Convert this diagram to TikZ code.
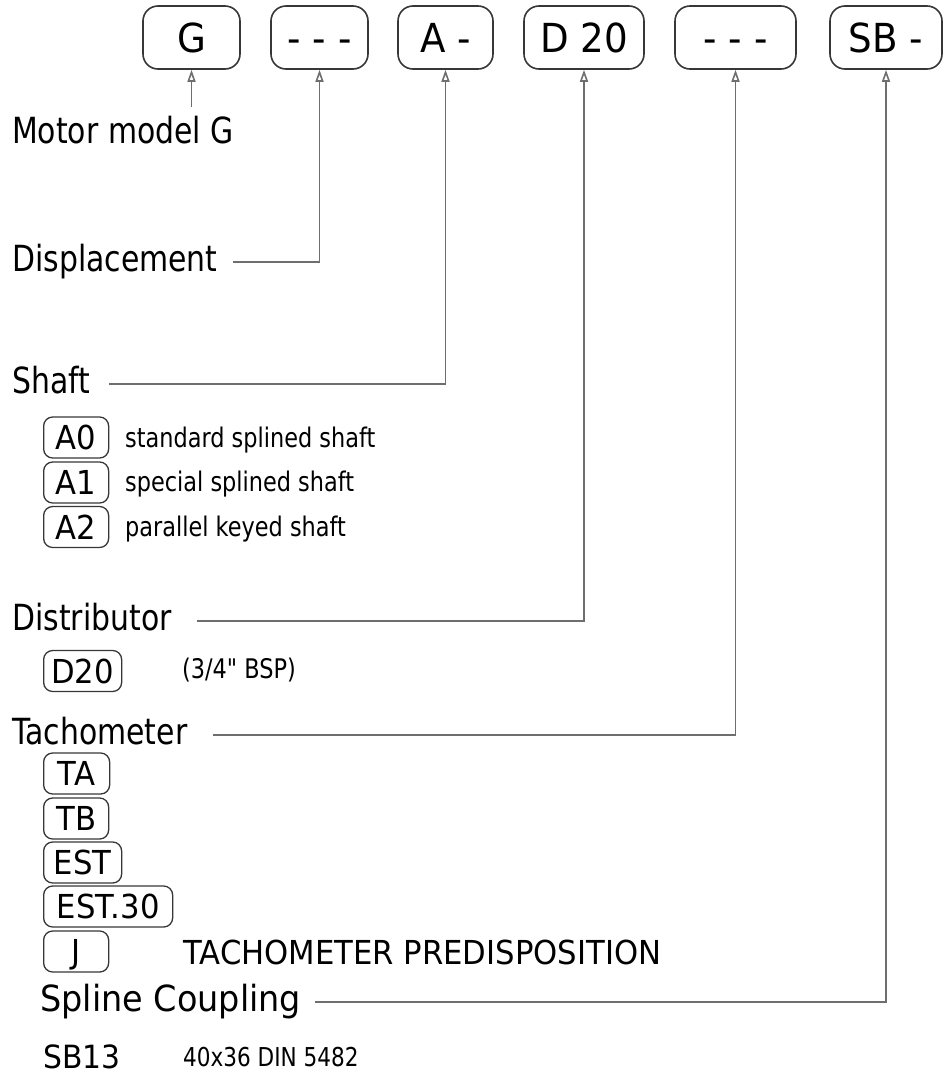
\documentclass[tikz,border=0pt]{standalone}
\usepackage{fontspec}
\setmainfont{DejaVu Sans}[FakeStretch=0.83,Ligatures=TeXOff]
\newfontfamily\anchofont{DejaVu Sans}[FakeStretch=0.93]
\usepackage{tikz}
\usetikzlibrary{arrows.meta}
\definecolor{GrisCaja}{RGB}{55,55,55}
\definecolor{GrisLinea}{RGB}{110,110,110}

\begin{document}
\begin{tikzpicture}[x=1pt,y=-1pt,>={Triangle[open,length=12pt,width=8pt]},
  caja/.style={draw=GrisCaja,line width=1.6pt,rounded corners=15pt,minimum height=63pt,inner sep=0pt,text height=29pt,text depth=0pt,font=\anchofont\fontsize{40}{42}\selectfont},
  codigo/.style={draw=GrisCaja,line width=1.3pt,rounded corners=9pt,anchor=west,minimum height=41pt,inner sep=0pt,text height=24pt,text depth=0pt,font=\anchofont\fontsize{33}{35}\selectfont},
  titulo/.style={anchor=west,inner sep=0pt,text height=27pt,text depth=9pt,font=\fontsize{36}{40}\selectfont},
  texto/.style={anchor=base west,inner sep=0pt,font=\fontsize{27}{30}\selectfont},
  conexion/.style={->,draw=GrisLinea,line width=1.6pt}]
  \useasboundingbox (0,0) rectangle (943,1074);
  \node[caja,minimum width=97pt] (bModelo) at (191.5,37.5) {G};
  \node[caja,minimum width=97pt] (bDesplaz) at (319.5,37.5) {- - -};
  \node[caja,minimum width=95pt] (bEje) at (445.5,37.5) {A -};
  \node[caja,minimum width=120pt] (bDistrib) at (584,37.5) {D 20};
  \node[caja,minimum width=121pt] (bTaco) at (735.5,37.5) {- - -};
  \node[caja,minimum width=112pt] (bAcople) at (886,37.5) {SB -};
  \node[titulo] (lModelo) at (12,134) {Motor model G};
  \node[titulo] (lDesplaz) at (12,262) {Displacement};
  \node[titulo] (lEje) at (12,384) {Shaft};
  \node[codigo,minimum width=65pt] (cA0) at (43,437.5) {A0};
  \node[codigo,minimum width=65pt] (cA1) at (43,482.5) {A1};
  \node[codigo,minimum width=65pt] (cA2) at (43,527) {A2};
  \node[texto] (tA0) at (125,447) {standard splined shaft};
  \node[texto] (tA1) at (125,491) {special splined shaft};
  \node[texto] (tA2) at (125,536) {parallel keyed shaft};
  \node[titulo] (lDistrib) at (12,621) {Distributor};
  \node[codigo,minimum width=78pt] (cD20) at (43,671) {D20};
  \node[texto] (tD20) at (182,678) {(3/4" BSP)};
  \node[titulo] (lTaco) at (12,735) {Tachometer};
  \node[codigo,minimum width=66pt] (cTA) at (43,773.5) {TA};
  \node[codigo,minimum width=65pt] (cTB) at (43,818.5) {TB};
  \node[codigo,minimum width=78pt] (cEST) at (43,862.5) {EST};
  \node[codigo,minimum width=129pt] (cEST30) at (43,906.5) {EST.30};
  \node[codigo,minimum width=65pt] (cJ) at (43,951.5) {J};
  \node[anchor=base west,inner sep=0pt,font=\anchofont\fontsize{33}{36}\selectfont] (tJ) at (183,964) {TACHOMETER PREDISPOSITION};
  \node[titulo,font=\anchofont\fontsize{36}{40}\selectfont] (lAcople) at (40,1002) {Spline Coupling};
  \node[anchor=base west,inner sep=0pt,font=\anchofont\fontsize{32}{34}\selectfont] (cSB13) at (43,1068) {SB13};
  \node[anchor=base west,inner sep=0pt,font=\fontsize{26}{28}\selectfont] (tSB13) at (183,1066) {40x36 DIN 5482};
  \draw[conexion] ([yshift=9pt]lModelo.north -| bModelo.south) -- (bModelo.south);
  \draw[conexion,shorten <=15pt] (lDesplaz.east) -| (bDesplaz.south);
  \draw[conexion,shorten <=19pt] (lEje.east) -| (bEje.south);
  \draw[conexion,shorten <=25pt] (lDistrib.east) -| (bDistrib.south);
  \draw[conexion,shorten <=25pt] (lTaco.east) -| (bTaco.south);
  \draw[conexion,shorten <=14pt] (lAcople.east) -| (bAcople.south);
\end{tikzpicture}
\end{document}
